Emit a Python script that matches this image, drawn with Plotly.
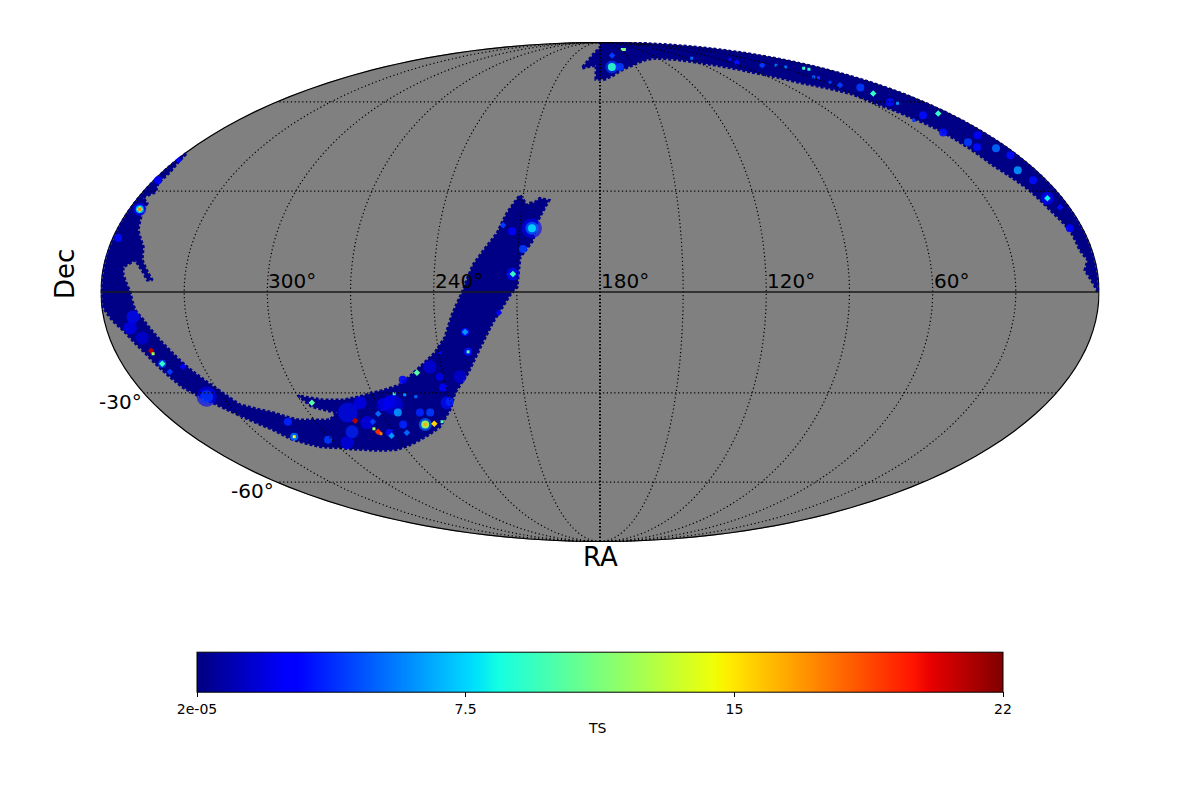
import plotly.graph_objects as go

# Sky footprint outlines (RA, Dec in degrees)
south_arc_ra = [359.6, 359.6, 359.6, 359.6, 359.5, 356.9, 357.1, 355, 358.2, 354.8, 354.6, 352, 347.5, 346.5, 343.5, 341.7, 343.5, 345.3, 349, 352.9, 352.4, 349.5,
                348.2, 345.8, 340.2, 336.2, 329.7, 325.6, 314.8, 307.2, 300.5, 293.4, 288.4, 297, 299.7, 291, 283, 269.5, 257.6, 248, 241.4, 236.8, 233.6, 229.8, 226.1, 218.2, 215.4, 211.3,
                208.1, 207, 205.1, 203.4, 199.8, 203.7, 204.7, 209.1, 209.9, 212.5, 218.9, 224.4, 230.3, 237.2, 241.4, 248.6, 260.6, 274.5, 290.3, 300, 308.5, 317.4, 321.4, 328.7, 335.8, 342.8, 349.2, 353.6, 357.1, 359.6]
south_arc_dec = [0, 15, 30, 38, 42.1, 35.9, 32.5, 29.7, 28.1, 26.3, 24.2, 18.2, 13.2, 9.35, 5.5, 3.5, 3.5, 5.8, 9.35, 7.3, 5, 0,
                 -5.3, -8.2, -16.4, -22.1, -29.1, -33.7, -36.2, -38.5, -38.5, -38.5, -36.2, -34.3, -30.9, -32.2, -32.2, -30, -27.5, -22.1, -17.9, -13.2, -6.7, -0.3, 7.9, 17.3, 23.3, 28.8,
                 25.7, 26.3, 26.6, 27.8, 27.2, 20.6, 15.2, 10.2, 1.5, -0.9, -8.8, -16.4, -23.9, -30, -35.3, -40.7, -45, -48.3, -48.3, -47.7, -47.4, -45, -41.7, -37.5, -33.1, -28.4, -17.9, -11.7, -8.2, -4.4]
north_arc_ra = [0.4, 4.4, 2.6, 4.4, 5, 8, 10.3, 15.4, 19, 22.5, 28.5, 31, 46.6, 64, 87.1, 125.7, 151.7, 170.5, 176.6, 182.8, 183.4, 194.8, 190, 180, 180,
                0.4, 0.4, 0.4, 0.4, 0.4]
north_arc_dec = [0, 6.4, 9.35, 12.3, 18.2, 24.2, 30.3, 38.1, 49.7, 53.9, 59.8, 63.2, 67.3, 72, 76.2, 78.8, 75.3, 70.7, 69, 69, 75.3, 73.9, 78.8, 84.7, 88.6,
                 89.5, 75, 50, 25, 10]

# TS excesses, grouped by how far they spread on the sky
broad_ra = [283.9, 263.7, 205.4, 336.3]
broad_dec = [-36.2, -33.7, 18.8, -31.2]
broad_ts = [3, 2.2, 2.5, 2.5]
wide_ra = [356, 349.3, 351.2, 348, 288, 254.4, 244.3, 233.7, 211.5, 205.4, 170.1, 5.9, 336.3, 276.6, 267.8, 264.4, 278.6, 294.5, 241.6]
wide_dec = [24.5, -7.3, -10.5, -13.5, -42.4, -40, -22.1, -25.1, 5.3, 18.8, 74.5, 27.8, -31.2, -33.1, -33.7, -32.8, -39.4, -46, -33.1]
wide_ts = [3, 3, 2.5, 1.8, 3.5, 5, 2, 1.8, 3, 5, 4, 2.5, 4, 2.5, 2.5, 2.2, 2.2, 2.2, 3]
mid_ra = [358, 358.3, 344.9, 315.4, 311.8, 301.7, 263.3, 254.4, 240.4, 208.2, 229.3, 229, 212.7, 205.4, 163.4, 170.1, 14, 5.2, 7.3, 4.7, 5, 356,
          263.8, 254.2, 250, 241.4, 256, 271.8, 241.3, 16, 19, 15, 19, 13, 3, 5.3]
mid_dec = [15.9, 33.4, -21.2, -44, -39.1, -45, -36.2, -40, -32.8, 12.6, -11.7, -17.6, 17.9, 18.8, 74.5, 74.5, 45.7, 43.7, 36.6, 18.8, 48, 24.5,
           -40, -36.2, -36.2, -25.1, -26, -42.7, -28.4, 65.6, 59.8, 55, 49, 44, 41.4, 33.4]
mid_ts = [3, 2.5, 4, 5, 3.5, 4, 6, 12, 3.5, 4, 3, 3, 2.5, 7.5, 4, 9, 4, 5, 6, 2.5, 2.5, 7,
          3.5, 3.5, 4, 2, 2.5, 3, 2.5, 4, 3, 3, 3, 3, 3, 3]
small_ra = [356, 359, 344.9, 343.8, 346.6, 337.7, 283.1, 276.7, 272, 271.7, 250.4, 249.8, 296, 211.5, 229.3, 216.3, 216.6, 166.3, 25.4, 17.3, 5.3, 5.9, 3.5, 264.4, 275.9, 54, 40]
small_dec = [24.5, 39.8, -21.2, -23.6, -17.3, -22.1, -38.8, -42.4, -43.7, -36.6, -39.8, -23.9, -33.1, 5.3, -11.7, 19.7, -6.1, 80.4, 66.5, 63.2, 55.7, 27.8, 25.1, -42.7, -39.1, 76.7, 75.3]
small_ts = [12, 2.5, 9, 4, 21, 2.5, 21, 19, 6, 5, 15, 10, 10, 9, 6, 4, 2.5, 4, 4, 9, 9, 8, 3, 5, 4, 3, 4]
tiny_ra = [356, 346.4, 315.4, 277.5, 276, 246.7, 261.3, 257.3, 253.2, 229, 239.5, 145.5, 142.3, 85.7, 50, 25, 13, 28, 16, 24, 254.4, 28, 14, 26, 27]
tiny_dec = [24.5, -18.2, -44, -41.4, -43, -39.1, -30.3, -30.6, -31.2, -17.6, -17.9, 84, 84, 78.8, 78.3, 74.5, 73.4, 70, 59.4, 53.2, -40, 75.3, 73.9, 69.7, 67.7]
tiny_ts = [17, 12, 14, 12, 17, 10, 9, 6, 5, 10, 2.5, 11, 11, 5, 3, 5, 9, 5, 6, 4, 16, 5, 9, 4, 4]

ts_min = 2e-05
ts_max = 22
ts_ticks = [2e-05, 7.33, 14.67, 22]
ts_tick_labels = ["2e-05", "7.5", "15", "22"]
ra_grid = [30, 60, 90, 120, 150, 210, 240, 270, 300, 330]
dec_grid = [60, 30, -30, -60]
ra_labels = [300, 240, 180, 120, 60]

jet = [[0, "rgb(0,0,128)"], [0.11, "rgb(0,0,255)"], [0.125, "rgb(0,0,255)"], [0.34, "rgb(0,219,255)"],
       [0.35, "rgb(0,230,247)"], [0.375, "rgb(21,255,226)"], [0.64, "rgb(238,255,8)"], [0.65, "rgb(247,246,0)"],
       [0.66, "rgb(255,236,0)"], [0.89, "rgb(255,19,0)"], [0.91, "rgb(232,0,0)"], [1, "rgb(128,0,0)"]]
NAVY = "rgb(0,0,134)"
FONT = "DejaVu Sans"
PAGE_MARGIN = 8  # the browser's default body margin


def lon(ra_values):
    return [180 - r for r in ra_values]


def px(x):
    return (x - PAGE_MARGIN) / 1200


def py(y):
    return 1 - (y - PAGE_MARGIN) / 800


fig = go.Figure()
for ra, dec in ((south_arc_ra, south_arc_dec), (north_arc_ra, north_arc_dec)):
    fig.add_trace(go.Scattergeo(lon=lon(ra + ra[:1]), lat=dec + dec[:1], mode="lines", fill="toself",
                                fillcolor=NAVY, line=dict(color=NAVY, width=3, dash="3px,2px"),
                                hoverinfo="skip", showlegend=False))

groups = [(broad_ra, broad_dec, broad_ts, 20, "circle", 0.6), (wide_ra, wide_dec, wide_ts, 13, "circle", 0.7),
          (mid_ra, mid_dec, mid_ts, 8, "circle", 0.9), (small_ra, small_dec, small_ts, 5, "diamond", 1),
          (tiny_ra, tiny_dec, tiny_ts, 3, "square", 1)]
for i, (ra, dec, ts, size, symbol, alpha) in enumerate(groups):
    marker = dict(color=ts, colorscale=jet, cmin=ts_min, cmax=ts_max, size=size, symbol=symbol,
                  opacity=alpha, line=dict(width=0))
    if i == 0:
        marker.update(showscale=True, colorbar=dict(
            orientation="h", lenmode="pixels", len=806, thickness=40, thicknessmode="pixels",
            x=px(600), xanchor="center", y=0.1125, yanchor="bottom", xpad=0, ypad=0,
            tickmode="array", tickvals=ts_ticks, ticktext=ts_tick_labels, ticks="outside", ticklen=5,
            tickwidth=1, tickcolor="black", tickfont=dict(family=FONT, size=14, color="black"),
            outlinecolor="black", outlinewidth=1))
    fig.add_trace(go.Scattergeo(lon=lon(ra), lat=dec, mode="markers", marker=marker, hoverinfo="skip", showlegend=False))

# graticule over the map
sweep_dec = [-90 + 5 * i for i in range(37)]
sweep_ra = [0.05 + 5 * i for i in range(72)] + [359.95]
for r in ra_grid:
    fig.add_trace(go.Scattergeo(lon=lon([r] * len(sweep_dec)), lat=sweep_dec, mode="lines",
                                line=dict(color="black", width=1.2, dash="1.2px,2.6px"), hoverinfo="skip", showlegend=False))
fig.add_trace(go.Scattergeo(lon=lon([180] * len(sweep_dec)), lat=sweep_dec, mode="lines",
                            line=dict(color="black", width=2, dash="1.5px,2px"), hoverinfo="skip", showlegend=False))
for d in dec_grid:
    fig.add_trace(go.Scattergeo(lon=lon(sweep_ra), lat=[d] * len(sweep_ra), mode="lines",
                                line=dict(color="black", width=1.2, dash="1.2px,2.6px"), hoverinfo="skip", showlegend=False))
fig.add_trace(go.Scattergeo(lon=lon(sweep_ra), lat=[0] * len(sweep_ra), mode="lines",
                            line=dict(color="#1a1a1a", width=1.6), hoverinfo="skip", showlegend=False))

annotations = []
for label, x in zip(ra_labels, (267, 434, 600, 766, 933)):
    annotations.append(dict(text=f"{label}°", x=px(x), y=py(281), xanchor="left", yanchor="middle", font_size=20))
annotations.append(dict(text="-30°", x=px(143), y=py(402), xanchor="right", yanchor="middle", font_size=20))
annotations.append(dict(text="-60°", x=px(275), y=py(491), xanchor="right", yanchor="middle", font_size=20))
annotations.append(dict(text="RA", x=px(600), y=py(557), xanchor="center", yanchor="middle", font_size=26))
annotations.append(dict(text="Dec", x=px(65), y=py(274), xanchor="center", yanchor="middle", font_size=26, textangle=-90))
annotations.append(dict(text="TS", x=px(597), y=py(728), xanchor="center", yanchor="middle", font_size=14))
for a in annotations:
    a.update(xref="paper", yref="paper", showarrow=False, borderpad=0,
             font=dict(family=FONT, size=a.pop("font_size"), color="black"))

fig.update_layout(
    width=1200, height=800, margin=dict(l=0, r=0, t=0, b=0), paper_bgcolor="white", showlegend=False,
    annotations=annotations,
    shapes=[dict(type="circle", xref="paper", yref="paper", x0=px(101), x1=px(1099), y0=py(542), y1=py(42),
                 fillcolor="#808080", line=dict(width=0), layer="below")],
    geo=dict(projection=dict(type="mollweide"), domain=dict(x=[px(101), px(1099)], y=[py(542), py(42)]),
             bgcolor="rgba(0,0,0,0)", showland=False, showocean=False, showlakes=False, showrivers=False,
             showcountries=False, showcoastlines=False, showsubunits=False, showframe=True,
             framecolor="black", framewidth=1.2,
             lonaxis=dict(showgrid=False), lataxis=dict(showgrid=False)),
)
fig.write_html("out.html")
